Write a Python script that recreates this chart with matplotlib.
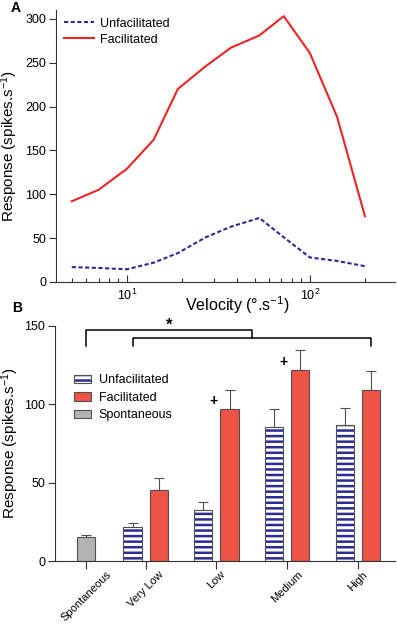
import matplotlib
matplotlib.use("Agg")
import matplotlib.pyplot as plt
from matplotlib.patches import Patch
import numpy as np

plt.rcParams['font.family'] = ['Liberation Sans', 'DejaVu Sans']
plt.rcParams['mathtext.fontset'] = 'custom'
plt.rcParams['mathtext.rm'] = 'Liberation Sans'
plt.rcParams['mathtext.it'] = 'Liberation Sans:italic'
plt.rcParams['hatch.linewidth'] = 1.8

# panel A: velocity tuning
velocity = [5, 7, 10, 14, 19, 27, 37, 53, 72, 100, 141, 200]
unfac_curve = [17, 16, 14.5, 22, 33, 51, 63, 73, 51, 28, 24, 18]
fac_curve = [92, 105, 129, 162, 220, 246, 267, 281, 303, 261, 188, 75]

# panel B: mean responses
categories = ['Spontaneous', 'Very Low', 'Low', 'Medium', 'High']
spont = 15.5
spont_err = 0.8
unfac = [21.7, 32.5, 85.6, 86.9]
unfac_err = [2.4, 5.1, 11.5, 10.8]
fac = [45.2, 96.9, 121.5, 109.2]
fac_err = [7.9, 11.9, 13.2, 11.9]

navy = '#2b2b96'
red_line = '#ee2424'
red_bar = '#ee5445'
grey_bar = '#b3b3b3'
edge = '#505050'
spine = '#333333'

W, H = 397, 625
fig = plt.figure(figsize=(W / 100, H / 100), dpi=100)

# ---------- A ----------
ax1 = fig.add_axes([56 / W, 1 - 282 / H, 339 / W, 272 / H])
ax1.plot(velocity, unfac_curve, color=navy, lw=1.5, dashes=(2, 1.2), label='Unfacilitated')
ax1.plot(velocity, fac_curve, color=red_line, lw=1.5, label='Facilitated')
ax1.set_xscale('log')
ax1.set_xlim(4.1, 292)
ax1.set_ylim(0, 310)
ax1.set_yticks([0, 50, 100, 150, 200, 250, 300])
ax1.spines['top'].set_visible(False)
ax1.spines['right'].set_visible(False)
for s in ('left', 'bottom'):
    ax1.spines[s].set_color(spine)
    ax1.spines[s].set_linewidth(0.8)
ax1.tick_params(axis='x', which='major', direction='in', length=5, width=0.8,
                color=spine, labelsize=9, pad=4)
ax1.tick_params(axis='x', which='minor', direction='in', length=3, width=0.8, color=spine)
ax1.tick_params(axis='y', direction='out', length=5, width=0.8, color=spine,
                labelsize=9, pad=2)
ax1.set_xlabel('Velocity (°.s$^{\\mathregular{-1}}$)', fontsize=11.5)
ax1.xaxis.set_label_coords(0.534, -0.045)
ax1.set_ylabel('Response (spikes.s$^{\\mathregular{-1}}$)', fontsize=11)
ax1.yaxis.set_label_coords(-0.105, 0.5)
ax1.legend(loc='upper left', bbox_to_anchor=(-0.01, 1.013), frameon=False, fontsize=9,
           handlelength=2.4, handletextpad=0.5, labelspacing=0.33)

# ---------- B ----------
ax2 = fig.add_axes([55 / W, 1 - 561 / H, 340 / W, 235.3 / H])
bw = 0.258
off = 0.186
grp = np.arange(1, len(unfac) + 1)
sx = 0.153

# spontaneous
ax2.bar(sx, spont, bw, color=grey_bar, edgecolor=edge, lw=0.8, zorder=2)
ax2.errorbar(sx, spont, yerr=[[0], [spont_err]], fmt='none', ecolor=edge,
             elinewidth=0.8, capsize=3.5, capthick=0.8, zorder=1)
# unfacilitated, striped
ax2.bar(grp - off, unfac, bw, facecolor='white', edgecolor=navy, hatch='---', lw=0, zorder=2)
ax2.bar(grp - off, unfac, bw, fill=False, edgecolor=edge, lw=0.8, zorder=3)
ax2.errorbar(grp - off, unfac, yerr=[np.zeros(len(unfac)), unfac_err], fmt='none',
             ecolor=edge, elinewidth=0.8, capsize=3.5, capthick=0.8, zorder=1)
# facilitated
ax2.bar(grp + off, fac, bw, color=red_bar, edgecolor=edge, lw=0.8, zorder=2)
ax2.errorbar(grp + off, fac, yerr=[np.zeros(len(fac)), fac_err], fmt='none',
             ecolor=edge, elinewidth=0.8, capsize=3.5, capthick=0.8, zorder=1)

ax2.set_xlim(-0.283, 4.526)
ax2.set_ylim(0, 150)
ax2.set_yticks([0, 50, 100, 150])
ax2.set_xticks([sx] + list(grp))
ax2.set_xticklabels(categories, rotation=45, fontsize=8)
ax2.spines['top'].set_visible(False)
ax2.spines['right'].set_visible(False)
for s in ('left', 'bottom'):
    ax2.spines[s].set_color(spine)
    ax2.spines[s].set_linewidth(0.8)
ax2.tick_params(axis='x', direction='out', length=5.5, width=0.8, color=spine, pad=0.5)
ax2.tick_params(axis='y', direction='out', length=5, width=0.8, color=spine,
                labelsize=9, pad=2)
ax2.set_ylabel('Response (spikes.s$^{\\mathregular{-1}}$)', fontsize=11)
ax2.yaxis.set_label_coords(-0.1, 0.5)

# significance brackets
b2l, b2r = 1 - off, 4 + off
b2m = (b2l + b2r) / 2
ax2.plot([b2l, b2l, b2r, b2r], [137.2, 142.3, 142.3, 137.2], color='black', lw=1.1,
         clip_on=False)
ax2.plot([sx, sx, b2m, b2m], [137.2, 147.2, 147.2, 142.3], color='black', lw=1.1,
         clip_on=False)
ax2.text((sx + b2m) / 2, 150.5, '*', ha='center', va='center', fontsize=12,
         fontweight='bold')
ax2.text(1.956, 102, '+', ha='center', va='center', fontsize=10, fontweight='bold')
ax2.text(2.956, 127, '+', ha='center', va='center', fontsize=10, fontweight='bold')

handles = [
    (Patch(facecolor='white', edgecolor=navy, hatch='---', lw=0),
     Patch(fill=False, edgecolor=edge, lw=0.8)),
    Patch(facecolor=red_bar, edgecolor=edge, lw=0.8),
    Patch(facecolor=grey_bar, edgecolor=edge, lw=0.8),
]
ax2.legend(handles, ['Unfacilitated', 'Facilitated', 'Spontaneous'],
           loc='upper left', bbox_to_anchor=(0.024, 0.842), frameon=False, fontsize=9,
           handlelength=1.3, handleheight=0.65, handletextpad=0.65, labelspacing=0.45)

fig.text(16 / W, 1 - 7.5 / H, 'A', fontsize=10, fontweight='bold', ha='center', va='center')
fig.text(17 / W, 1 - 308 / H, 'B', fontsize=10, fontweight='bold', ha='center', va='center')

fig.savefig('out.png', dpi=100)
